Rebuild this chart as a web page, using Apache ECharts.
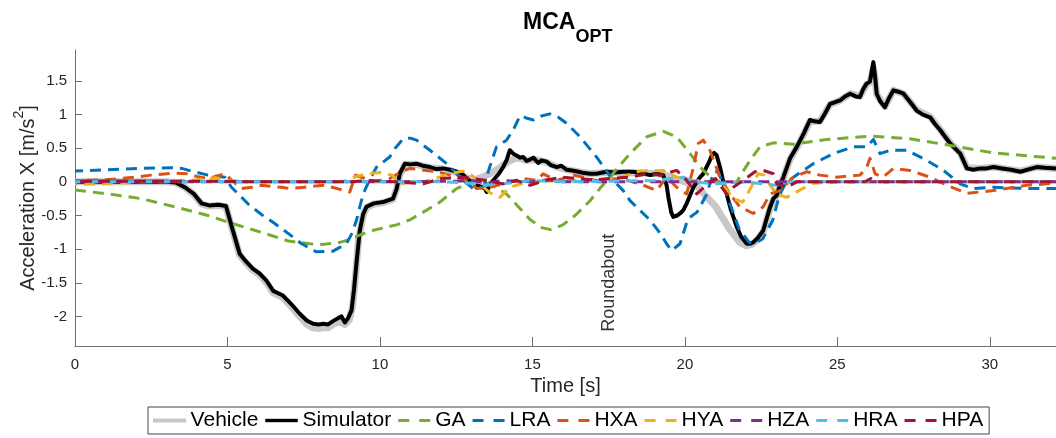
<!DOCTYPE html>
<html>
<head>
<meta charset="utf-8">
<script src="https://cdn.jsdelivr.net/npm/echarts@6/dist/echarts.min.js"></script>
<style>
  html, body { margin: 0; padding: 0; background: #fff; }
  #chart { width: 1056px; height: 438px; }
</style>
</head>
<body>
<div id="chart"></div>
<script>
// Longitudinal acceleration traces, [time s, acceleration m/s^2]
const vehicle = [[0,0],[1,0],[2,0],[3,0],[3.3,-0.01],[3.6,-0.08],[3.9,-0.19],[4.15,-0.33],[4.4,-0.36],[4.7,-0.35],[4.95,-0.37],[5.15,-0.7],[5.4,-1.09],[5.6,-1.2],[5.83,-1.31],[6.05,-1.38],[6.28,-1.5],[6.5,-1.65],[6.82,-1.72],[7.1,-1.86],[7.37,-2.0],[7.6,-2.12],[7.81,-2.17],[8.0,-2.18],[8.14,-2.17],[8.3,-2.17],[8.46,-2.12],[8.65,-2.07],[8.85,-2.12],[9.0,-2.05],[9.1,-1.85],[9.2,-1.4],[9.3,-0.85],[9.45,-0.5],[9.56,-0.38],[9.8,-0.33],[10.1,-0.31],[10.43,-0.26],[10.55,-0.1],[10.65,0.1],[10.82,0.26],[11.2,0.26],[11.64,0.21],[12.07,0.19],[12.51,0.14],[12.84,0.06],[13.1,0.03],[13.4,0.08],[13.6,0.12],[13.9,0.2],[14.2,0.3],[14.5,0.36],[14.8,0.32],[15.1,0.33],[15.47,0.29],[15.8,0.22],[16.12,0.18],[16.5,0.15],[16.89,0.12],[17.43,0.14],[18.0,0.14],[18.6,0.13],[19.07,0.12],[19.3,0.11],[19.6,0.06],[20.0,0.0],[20.4,-0.06],[20.7,-0.22],[21.0,-0.36],[21.46,-0.7],[21.8,-0.9],[22.0,-0.95],[22.2,-0.93],[22.4,-0.85],[22.57,-0.74],[22.68,-0.57],[22.79,-0.4],[22.9,-0.27],[23.01,-0.21],[23.12,-0.06],[23.23,0.06],[23.45,0.34],[23.67,0.51],[23.9,0.71],[24.1,0.9],[24.43,0.9],[24.76,1.15],[25.09,1.21],[25.42,1.31],[25.74,1.27],[25.96,1.45],[26.07,1.48],[26.13,1.6],[26.18,1.7],[26.24,1.52],[26.29,1.3],[26.56,1.12],[26.84,1.36],[27.17,1.31],[27.6,1.07],[28.04,0.97],[28.37,0.78],[28.7,0.58],[29.03,0.43],[29.25,0.21],[29.69,0.2],[30.12,0.22],[31.0,0.16],[31.54,0.22],[32.17,0.2]];

const simulator = [[0,0],[1,0],[2,0],[3,0],[3.3,-0.01],[3.6,-0.08],[3.9,-0.18],[4.15,-0.32],[4.4,-0.35],[4.7,-0.34],[4.95,-0.36],[5.15,-0.68],[5.4,-1.07],[5.6,-1.18],[5.83,-1.29],[6.05,-1.36],[6.28,-1.47],[6.5,-1.62],[6.82,-1.69],[7.1,-1.82],[7.37,-1.96],[7.6,-2.06],[7.81,-2.11],[8.0,-2.12],[8.14,-2.11],[8.3,-2.12],[8.46,-2.07],[8.65,-2.02],[8.74,-2.0],[8.85,-2.09],[8.95,-2.03],[9.07,-1.91],[9.15,-1.6],[9.23,-1.21],[9.34,-0.72],[9.45,-0.48],[9.56,-0.37],[9.8,-0.32],[10.1,-0.3],[10.43,-0.25],[10.55,-0.1],[10.65,0.12],[10.82,0.27],[11.0,0.26],[11.2,0.27],[11.4,0.24],[11.64,0.22],[11.85,0.19],[12.07,0.2],[12.3,0.18],[12.51,0.15],[12.7,0.12],[12.84,0.05],[13.0,0.0],[13.17,-0.05],[13.35,-0.08],[13.44,-0.1],[13.5,-0.15],[13.6,-0.05],[13.71,0.02],[13.9,0.12],[14.04,0.22],[14.15,0.32],[14.26,0.47],[14.37,0.42],[14.48,0.39],[14.6,0.36],[14.7,0.37],[14.81,0.31],[14.92,0.33],[15.03,0.36],[15.19,0.28],[15.3,0.32],[15.47,0.3],[15.6,0.25],[15.8,0.22],[15.95,0.24],[16.12,0.18],[16.3,0.17],[16.5,0.15],[16.7,0.13],[16.89,0.12],[17.1,0.12],[17.43,0.15],[17.7,0.14],[18.0,0.15],[18.3,0.15],[18.6,0.13],[18.86,0.1],[19.07,0.12],[19.29,0.1],[19.4,-0.05],[19.46,-0.23],[19.55,-0.45],[19.62,-0.52],[19.75,-0.5],[19.84,-0.47],[19.95,-0.42],[20.06,-0.32],[20.17,-0.2],[20.28,-0.08],[20.39,0.0],[20.5,0.07],[20.6,0.12],[20.71,0.22],[20.8,0.3],[20.88,0.39],[20.96,0.43],[21.04,0.4],[21.15,0.22],[21.26,0.0],[21.37,-0.18],[21.5,-0.4],[21.7,-0.67],[21.85,-0.82],[22.03,-0.92],[22.14,-0.92],[22.24,-0.9],[22.4,-0.83],[22.57,-0.72],[22.68,-0.55],[22.79,-0.38],[22.9,-0.25],[23.01,-0.2],[23.12,-0.05],[23.23,0.07],[23.45,0.35],[23.67,0.52],[23.9,0.72],[24.1,0.92],[24.25,0.9],[24.43,0.89],[24.6,1.02],[24.76,1.16],[24.9,1.18],[25.09,1.21],[25.25,1.27],[25.42,1.31],[25.6,1.27],[25.74,1.26],[25.85,1.38],[25.96,1.46],[26.07,1.49],[26.13,1.65],[26.18,1.78],[26.24,1.55],[26.29,1.31],[26.4,1.2],[26.56,1.11],[26.7,1.25],[26.84,1.36],[27.0,1.34],[27.17,1.31],[27.4,1.18],[27.6,1.06],[27.8,1.0],[28.04,0.96],[28.2,0.86],[28.37,0.77],[28.55,0.66],[28.7,0.57],[28.9,0.48],[29.03,0.42],[29.15,0.3],[29.25,0.2],[29.45,0.18],[29.69,0.2],[29.9,0.2],[30.12,0.22],[30.4,0.2],[30.7,0.18],[31.0,0.15],[31.3,0.19],[31.54,0.22],[31.8,0.21],[32.17,0.2]];

const ga = [[0,-0.12],[1.08,-0.18],[2.18,-0.25],[3.27,-0.37],[4.36,-0.5],[5.02,-0.6],[6.11,-0.75],[7.0,-0.88],[7.7,-0.92],[8.1,-0.93],[8.68,-0.9],[9.0,-0.86],[9.34,-0.79],[9.78,-0.72],[10.54,-0.64],[11.0,-0.56],[11.42,-0.45],[11.97,-0.3],[12.51,-0.1],[12.95,-0.02],[13.39,0.0],[13.8,-0.08],[14.15,-0.18],[14.5,-0.35],[14.92,-0.56],[15.3,-0.68],[15.6,-0.71],[16.0,-0.64],[16.4,-0.5],[16.89,-0.28],[17.21,-0.1],[17.54,0.07],[18.2,0.42],[18.75,0.67],[19.29,0.75],[19.73,0.67],[20.17,0.42],[20.6,0.17],[21.0,0.02],[21.26,-0.02],[21.7,0.0],[21.9,0.15],[22.14,0.32],[22.46,0.52],[22.9,0.58],[23.56,0.56],[24.65,0.63],[26.07,0.68],[27.38,0.64],[28.59,0.55],[30.12,0.43],[32.17,0.35]];

const lra = [[0,0.16],[1.07,0.18],[2.2,0.2],[3.16,0.21],[3.5,0.2],[3.82,0.16],[4.36,0.1],[4.91,0.07],[5.13,-0.08],[5.4,-0.2],[5.68,-0.33],[6.1,-0.48],[6.55,-0.62],[7.0,-0.77],[7.43,-0.92],[7.92,-1.04],[8.46,-1.03],[8.9,-0.92],[9.1,-0.75],[9.23,-0.57],[9.34,-0.37],[9.45,-0.18],[9.65,0.02],[9.89,0.22],[10.32,0.37],[10.5,0.5],[10.76,0.64],[11.0,0.65],[11.2,0.62],[11.64,0.47],[12.19,0.27],[12.73,0.02],[13.06,-0.1],[13.39,-0.08],[13.6,0.22],[13.82,0.52],[14.15,0.62],[14.37,0.77],[14.59,0.98],[14.8,0.95],[15.03,0.92],[15.3,0.98],[15.57,1.01],[15.85,0.96],[16.12,0.87],[16.56,0.67],[17.1,0.37],[17.65,0.02],[17.98,-0.13],[18.2,-0.28],[18.86,-0.57],[19.2,-0.77],[19.4,-0.92],[19.57,-1.02],[19.84,-0.92],[20.1,-0.55],[20.4,-0.45],[20.7,-0.2],[20.95,0.15],[21.1,0.15],[21.3,-0.1],[21.5,-0.35],[21.78,-0.7],[22.11,-0.9],[22.35,-0.9],[22.55,-0.85],[22.88,-0.57],[23.1,-0.2],[23.3,-0.02],[23.56,0.07],[24.21,0.27],[24.87,0.42],[25.52,0.52],[25.96,0.52],[26.18,0.63],[26.4,0.42],[26.73,0.47],[27.28,0.47],[27.93,0.32],[28.48,0.17],[29.03,-0.03],[29.46,-0.1],[30.12,-0.08],[31.21,-0.1],[32.17,-0.1]];

const hxa = [[0,0.02],[1,0.03],[2,0.07],[2.5,0.1],[3.27,0.13],[3.7,0.12],[4.0,0.08],[4.36,0.05],[4.7,0.09],[4.91,0.12],[5.2,0.0],[5.46,-0.1],[5.8,-0.08],[6.11,-0.05],[6.5,-0.07],[6.77,-0.08],[7.04,-0.1],[7.54,-0.08],[8.14,-0.05],[8.6,-0.1],[9.01,-0.15],[9.2,0.1],[9.5,0.05],[9.8,0.0],[10.32,0.05],[10.7,0.15],[10.98,0.2],[11.53,0.17],[11.86,0.15],[12.29,0.1],[12.95,0.0],[13.17,-0.1],[13.6,-0.08],[14.04,-0.03],[14.7,0.05],[15.14,0.02],[15.35,0.12],[15.8,0.02],[16.34,0.1],[17.1,0.02],[17.87,0.05],[18.53,-0.03],[19.07,-0.13],[19.4,0.07],[19.73,-0.08],[20.06,-0.18],[20.28,0.22],[20.44,0.57],[20.6,0.62],[20.82,0.47],[21.15,0.07],[21.48,-0.18],[21.8,-0.37],[22.24,-0.47],[22.57,-0.37],[22.79,-0.18],[23.12,-0.13],[23.56,0.07],[24.0,0.15],[24.43,0.1],[24.98,0.07],[25.74,0.1],[25.95,0.2],[26.07,0.35],[26.24,0.12],[26.5,0.07],[26.84,0.2],[27.38,0.17],[28.04,0.07],[28.59,-0.05],[29.25,-0.17],[30.12,-0.13],[31.21,-0.05],[32.17,-0.02]];

const hya = [[0,-0.04],[1,-0.03],[2,0.0],[3,0.01],[4,0.03],[4.6,0.06],[5,0.02],[6,0.0],[8,0.0],[8.8,0.01],[9.23,0.08],[9.6,0.12],[10.0,0.14],[10.4,0.1],[10.65,-0.04],[11.0,0.0],[11.5,0.01],[12.29,0.12],[12.73,0.16],[13.0,0.1],[13.17,0.04],[13.4,-0.08],[13.6,-0.16],[13.93,-0.23],[14.26,-0.08],[14.7,-0.02],[15,0.0],[16,0.02],[17,0.02],[18,0.08],[18.53,0.16],[19.29,0.17],[19.73,0.07],[20.3,0.02],[21.04,0.0],[21.3,-0.08],[21.6,-0.25],[21.9,-0.3],[22.15,-0.1],[22.4,0.12],[22.6,0.1],[22.8,-0.05],[23.0,-0.18],[23.34,-0.23],[23.78,-0.12],[24.2,-0.02],[25,0.0],[32.17,0.0]];

const hza = [[0,0],[10,0],[12.5,0.01],[13,0.02],[13.5,-0.02],[14,0.02],[15,0],[15.5,0.03],[16,0],[32.17,0]];

const hra = [[0,0],[12,0],[13,-0.02],[13.5,-0.05],[14,-0.03],[15,0.02],[16,0.0],[19,0.02],[19.95,0.07],[20.3,0.0],[21,-0.03],[22,0.0],[23,-0.05],[23.5,0.0],[32.17,0]];

const hpa = [[0,0.01],[4.9,0.01],[5.5,0.0],[9,0.0],[9.67,0.02],[10.5,0.0],[11.42,-0.03],[12,0.05],[12.73,0.07],[13.5,0.02],[14.04,-0.03],[14.48,0.02],[14.92,-0.05],[15.5,0.03],[16.0,0.07],[17,0.03],[18.2,0.07],[18.75,0.12],[19.2,0.1],[19.73,0.17],[20.06,0.02],[20.39,-0.18],[20.7,-0.05],[21.0,0.05],[21.37,-0.18],[21.59,-0.08],[22.0,0.05],[22.3,0.15],[22.57,0.17],[22.9,0.12],[23.01,-0.03],[23.34,-0.08],[23.67,0.0],[25.9,0.0],[26.1,0.05],[26.3,0.0],[32.17,0.0]];

const seriesNames = ['Vehicle', 'Simulator', 'GA', 'LRA', 'HXA', 'HYA', 'HZA', 'HRA', 'HPA'];
const xTicks = [0, 5, 10, 15, 20, 25, 30];
const yTicks = [-2, -1.5, -1, -0.5, 0, 0.5, 1, 1.5];
const xRange = [0, 32.17];
const yRange = [-2.44, 1.96];
const annotation = { text: 'Roundabout', at: [17.5, -1.5] };

const colors = {
  Vehicle: '#c8c8c8', Simulator: '#000000', GA: '#77AC30', LRA: '#0072BD',
  HXA: '#D95319', HYA: '#EDB120', HZA: '#7E2F8E', HRA: '#4DBEEE', HPA: '#A2142F'
};
const traces = { Vehicle: vehicle, Simulator: simulator, GA: ga, LRA: lra, HXA: hxa, HYA: hya, HZA: hza, HRA: hra, HPA: hpa };
// shift the dash phase so the near-zero traces interleave instead of hiding each other
const dashPhase = { GA: 0, LRA: 3, HXA: 6, HYA: 9, HZA: 0, HRA: 6, HPA: 12 };

const FONT = '"Liberation Sans", Arial, Helvetica, sans-serif';
const axisGray = '#707070';
const textGray = '#262626';

function isSolid(name) { return name === 'Vehicle' || name === 'Simulator'; }

function lineSeries(name) {
  return {
    name: name,
    type: 'line',
    data: traces[name],
    showSymbol: false,
    symbol: 'none',
    smooth: false,
    animation: false,
    silent: true,
    lineStyle: {
      color: colors[name],
      width: name === 'Vehicle' ? 7 : (name === 'Simulator' ? 4 : 3),
      type: isSolid(name) ? 'solid' : [11, 7],
      dashOffset: isSolid(name) ? 0 : dashPhase[name],
      cap: 'butt',
      join: 'round'
    },
    itemStyle: { color: colors[name] }
  };
}

const series = seriesNames.map(lineSeries);
// vertical annotation placed in data coordinates
series.push({
  type: 'scatter',
  data: [annotation.at],
  symbolSize: 0,
  silent: true,
  animation: false,
  label: {
    show: true,
    formatter: annotation.text,
    rotate: 90,
    position: 'inside',
    fontFamily: FONT,
    fontSize: 18,
    color: '#000'
  }
});

// legend keys: a solid bar or two dashes, 32 px wide, 3 px tall
const DASH_ICON = 'path://M0,0h11v3h-11zM21,0h11v3h-11z';

const chart = echarts.init(document.getElementById('chart'), null, { renderer: 'canvas' });
chart.setOption({
  backgroundColor: '#fff',
  animation: false,
  title: {
    text: '{m|MCA}{s|OPT}',
    left: 523,
    top: 11,
    padding: 0,
    textStyle: {
      rich: {
        m: { fontFamily: FONT, fontSize: 23, fontWeight: 'bold', color: '#000', verticalAlign: 'top', lineHeight: 26 },
        s: { fontFamily: FONT, fontSize: 18, fontWeight: 'bold', color: '#000', verticalAlign: 'top', lineHeight: 20, padding: [17, 0, 0, 0] }
      }
    }
  },
  grid: { left: 75, top: 50, right: 0, bottom: 92, containLabel: false, outerBoundsMode: 'none' },
  legend: {
    data: seriesNames.map(function (n) {
      return {
        name: n,
        icon: isSolid(n) ? 'rect' : DASH_ICON,
        itemStyle: {
          color: colors[n],
          borderColor: colors[n],
          borderWidth: n === 'Vehicle' ? 1.2 : (n === 'Simulator' ? 0.4 : 0)
        }
      };
    }),
    left: 148,
    top: 407,
    orient: 'horizontal',
    itemWidth: 32,
    itemHeight: 3,
    symbolKeepAspect: false,
    itemGap: 7,
    padding: [3, 6, 3, 5],
    borderColor: '#444',
    borderWidth: 1,
    backgroundColor: '#fff',
    selectedMode: false,
    textStyle: { fontFamily: FONT, fontSize: 21, color: '#000' }
  },
  xAxis: {
    type: 'value',
    min: xRange[0],
    max: xRange[1],
    name: 'Time [s]',
    nameLocation: 'middle',
    nameGap: 29,
    nameTextStyle: { fontFamily: FONT, fontSize: 20, color: textGray },
    axisLine: { show: true, onZero: false, lineStyle: { color: axisGray, width: 1 } },
    axisTick: { show: true, inside: true, length: 9, customValues: xTicks, lineStyle: { color: axisGray } },
    axisLabel: { customValues: xTicks, margin: 11, fontFamily: FONT, fontSize: 15, color: textGray },
    splitLine: { show: false }
  },
  yAxis: {
    type: 'value',
    min: yRange[0],
    max: yRange[1],
    name: '{a|Acceleration X [m/s}{sup|2}{a|]}',
    nameLocation: 'middle',
    nameGap: 37,
    nameMoveOverlap: false,
    nameRotate: 90,
    nameTextStyle: {
      fontFamily: FONT, fontSize: 20, color: textGray,
      rich: {
        a: { fontFamily: FONT, fontSize: 20, color: textGray, verticalAlign: 'bottom', lineHeight: 26 },
        sup: { fontFamily: FONT, fontSize: 14, color: textGray, verticalAlign: 'top', lineHeight: 14 }
      }
    },
    axisLine: { show: true, onZero: false, lineStyle: { color: axisGray, width: 1 } },
    axisTick: { show: true, inside: true, length: 7, customValues: yTicks, lineStyle: { color: axisGray } },
    axisLabel: { customValues: yTicks, margin: 8, fontFamily: FONT, fontSize: 15, color: textGray },
    splitLine: { show: false }
  },
  series: series
});
</script>
</body>
</html>
